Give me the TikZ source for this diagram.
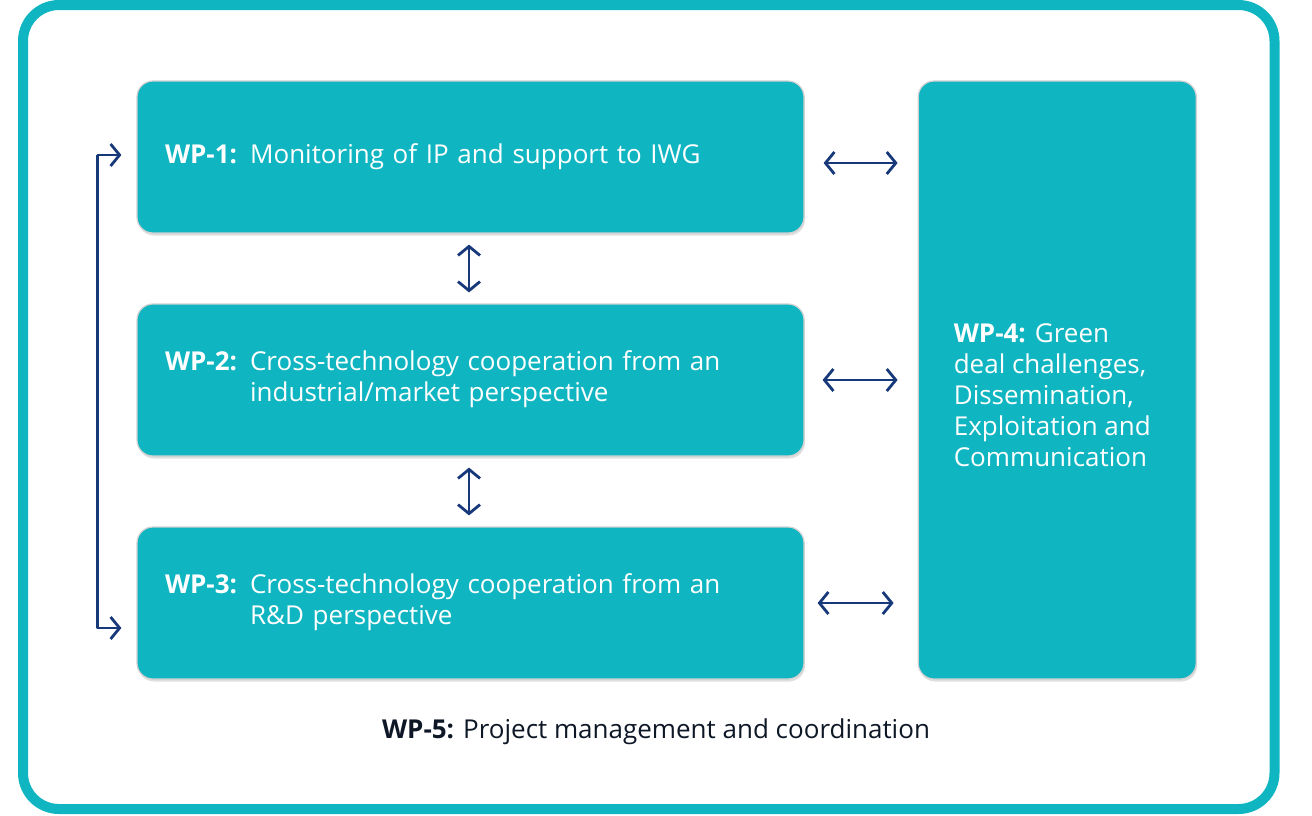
\documentclass[tikz,border=0pt]{standalone}
\usepackage{fontspec}
\setmainfont{Open Sans}
\usetikzlibrary{arrows.meta}
\usetikzlibrary{positioning}
\usetikzlibrary{shadows}
\definecolor{wpteal}{HTML}{0FB5C1}
\definecolor{wpnavy}{HTML}{17397A}
\definecolor{wpdark}{HTML}{0D1726}

\tikzset{
  wpbox/.style={rectangle,rounded corners=16pt,fill=wpteal,draw=black!18,line width=1.2pt,
    drop shadow={shadow xshift=1pt,shadow yshift=-2.5pt,opacity=0.25},
    text=white,align=left,inner xsep=28pt,inner ysep=0pt,
    font=\fontsize{26}{31}\selectfont},
  wplink/.style={wpnavy,line width=2.8pt,line cap=round,line join=round,
    {Straight Barb[length=9pt,width=22pt,line width=2.8pt]}-{Straight Barb[length=9pt,width=22pt,line width=2.8pt]}},
  wpone/.style={wpnavy,line width=2.8pt,line join=round,
    -{Straight Barb[length=9pt,width=22pt,line width=2.8pt]}}
}

\begin{document}
\begin{tikzpicture}[x=1pt,y=-1pt]
    \useasboundingbox (0,0) rectangle (1312,815);
    \draw[wpteal,line width=10pt,rounded corners=36pt] (23,5) rectangle (1274.5,809);

    \node[wpbox,text width=611pt,minimum height=152pt] (wp1) at (470.5,157)
      {\textbf{WP-1:} Monitoring of IP and support to IWG};
    \node[wpbox,text width=611pt,minimum height=152pt,below=69.8pt of wp1] (wp2)
      {\begin{tabular}{@{}l@{ }l@{}}\textbf{WP-2:} & Cross-technology cooperation from an\\ & industrial/market perspective\end{tabular}};
    \node[wpbox,text width=611pt,minimum height=152pt,below=69.8pt of wp2] (wp3)
      {\begin{tabular}{@{}l@{ }l@{}}\textbf{WP-3:} & Cross-technology cooperation from an\\ & R\&D perspective\end{tabular}};

    \node[wpbox,minimum width=278pt,minimum height=598pt,anchor=north west,xshift=113pt] (wp4) at (wp1.north east) {};
    \node[anchor=west,text=white,align=left,inner sep=0pt,font=\fontsize{26}{31}\selectfont,yshift=-15pt] (wp4txt) at ([xshift=36pt]wp4.west)
      {\textbf{WP-4:} Green\\deal challenges,\\Dissemination,\\Exploitation and\\Communication};

    \node[text=wpdark,font=\fontsize{26}{31}\selectfont] (wp5) at (656,732) {\textbf{WP-5:} Project management and coordination};

    % links to WP-4
    \draw[wplink,shorten <=19pt,shorten >=20pt] ([yshift=-6pt]wp1.east) -- ([yshift=-6pt]wp1.east -| wp4.west);
    \draw[wplink,shorten <=18pt,shorten >=20pt] (wp2.east) -- (wp2.east -| wp4.west);
    \draw[wplink,shorten <=13pt,shorten >=24pt] (wp3.east) -- (wp3.east -| wp4.west);

    % links between WP-1, WP-2, WP-3
    \draw[wplink,shorten <=11pt,shorten >=11pt] ([xshift=-1.5pt]wp1.south) -- ([xshift=-1.5pt]wp2.north);
    \draw[wplink,shorten <=11pt,shorten >=11pt] ([xshift=-1.5pt]wp2.south) -- ([xshift=-1.5pt]wp3.north);

    % WP-5 feedback
    \coordinate (in1) at ([xshift=-15pt,yshift=2pt]wp1.west);
    \coordinate (in3) at ([xshift=-15pt,yshift=-25pt]wp3.west);
    \draw[wpone] ([xshift=-24pt]in1) -- (in1);
    \draw[wpone] ([xshift=-24pt]in1) |- (in3);
\end{tikzpicture}
\end{document}
